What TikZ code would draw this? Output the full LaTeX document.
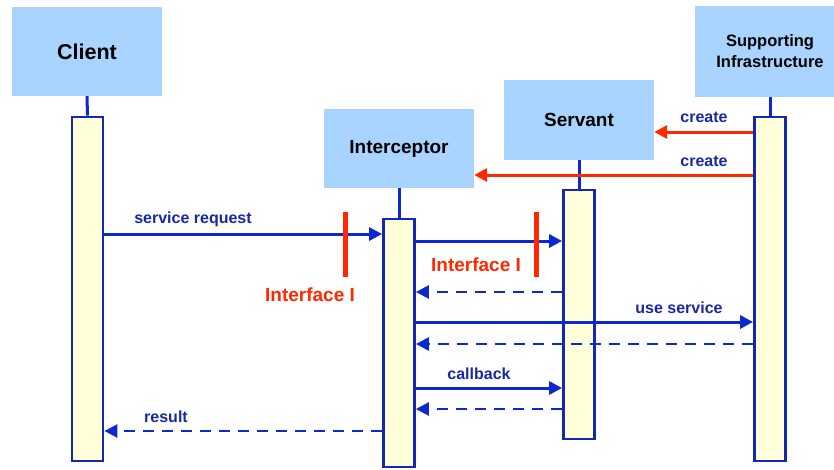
\documentclass[tikz,border=0pt]{standalone}
\usepackage{fontspec}
\setmainfont{Liberation Sans}
\usetikzlibrary{arrows.meta}
\definecolor{boxblue}{RGB}{168,212,255}
\definecolor{barfill}{RGB}{255,255,217}
\definecolor{lineblue}{RGB}{12,40,210}
\definecolor{edgeblue}{RGB}{20,40,175}
\definecolor{labelblue}{RGB}{25,40,160}
\definecolor{ifred}{RGB}{255,40,0}
\begin{document}
\begin{tikzpicture}[x=1pt,y=-1pt,
  role/.style={rectangle,fill=boxblue,inner sep=0pt,minimum width=150pt,align=center,font=\bfseries\fontsize{19}{22}\selectfont},
  activation/.style={rectangle,draw=edgeblue,fill=barfill,line width=2.8pt,inner sep=0pt,minimum width=31pt},
  stub/.style={lineblue,line width=3pt},
  msg/.style={lineblue,line width=3pt,-{Triangle[length=13pt,width=13pt]}},
  reply/.style={lineblue,line width=2.5pt,dash pattern=on 11pt off 8pt,-{Triangle[length=13pt,width=13pt]}},
  make/.style={ifred,line width=3pt,-{Triangle[length=13pt,width=13pt]}},
  lbl/.style={text=labelblue,font=\bfseries\fontsize{16}{19}\selectfont,inner sep=0pt},
  iflbl/.style={text=ifred,font=\bfseries\fontsize{19}{22}\selectfont,inner sep=0pt},
  ifbar/.style={rectangle,fill=ifred,inner sep=0pt,minimum width=5pt,minimum height=65pt}
]
\useasboundingbox (0,0) rectangle (834,469);

% participants
\node[role,minimum height=89pt,font=\bfseries\fontsize{21.5}{24}\selectfont] (client) at (87,51.5) {Client};
\node[role,minimum height=79pt] (icpt) at (399,148.5) {Interceptor};
\node[role,minimum height=80pt] (serv) at (579,120) {Servant};
\node[role,minimum height=91pt,font=\bfseries\fontsize{16.5}{21}\selectfont] (infra) at (770,51.5) {Supporting\\Infrastructure};

% activation bars
\node[activation,minimum height=344pt] (ca) at (87.5,289) {};
\node[activation,minimum height=248pt] (ia) at (399,343) {};
\node[activation,minimum height=249pt] (sa) at (579,314.5) {};
\node[activation,minimum height=344pt] (pa) at (770,289) {};

% lifeline stubs
\draw[stub] (client.south) -- (ca.north);
\draw[stub] (icpt.south) -- (ia.north);
\draw[stub] (serv.south) -- (sa.north);
\draw[stub] (infra.south) -- (pa.north);

% message rows
\coordinate (r1) at (0,132);
\coordinate (r2) at (0,175);
\coordinate (r3) at (0,234);
\coordinate (r4) at (0,241);
\coordinate (r5) at (0,292);
\coordinate (r6) at (0,322);
\coordinate (r7) at (0,344);
\coordinate (r8) at (0,388);
\coordinate (r9) at (0,409);
\coordinate (r10) at (0,431);

% creation
\draw[make] (pa.west |- r1) -- (serv.east |- r1);
\draw[make] (pa.west |- r2) -- (icpt.east |- r2);
\node[lbl] (c1) at (704,117) {create};
\node[lbl] (c2) at (704,161) {create};

% calls and replies
\draw[msg] (ca.east |- r3) -- (ia.west |- r3);
\node[lbl] (sreq) at (193,219) {service request};
\draw[msg] (ia.east |- r4) -- (sa.west |- r4);
\draw[reply] (sa.west |- r5) -- (ia.east |- r5);
\draw[msg] (ia.east |- r6) -- (pa.west |- r6);
\node[lbl] (use) at (679,307.5) {use service};
\draw[reply] (pa.west |- r7) -- (ia.east |- r7);
\draw[msg] (ia.east |- r8) -- (sa.west |- r8);
\node[lbl] (cb) at (479,373.5) {callback};
\draw[reply] (sa.west |- r9) -- (ia.east |- r9);
\draw[reply] (ia.west |- r10) -- (ca.east |- r10);
\node[lbl] (res) at (166,417) {result};

% interface markers
\node[ifbar] (bar1) at (345,244.5) {};
\node[ifbar] (bar2) at (536,244.5) {};
\node[iflbl] (if1) at (310,295) {Interface I};
\node[iflbl] (if2) at (476,265) {Interface I};
\end{tikzpicture}
\end{document}
